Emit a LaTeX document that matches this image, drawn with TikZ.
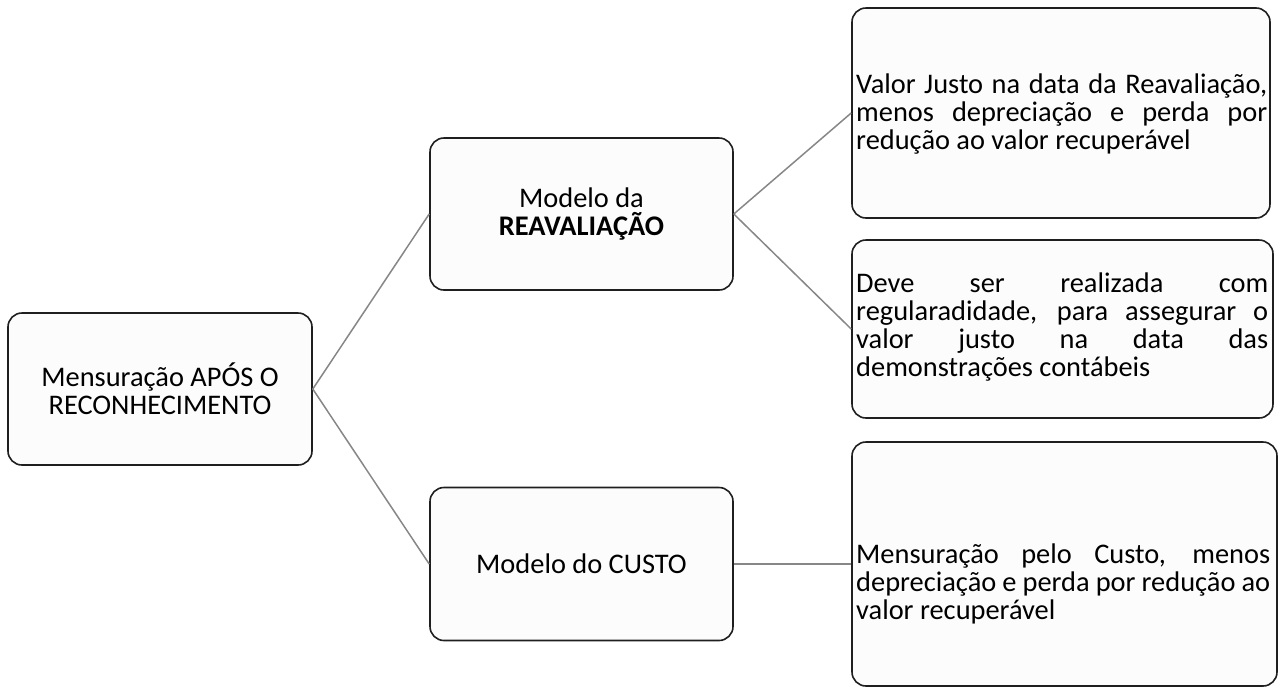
\documentclass[tikz,border=0pt]{standalone}
\usepackage{fontspec}
\setmainfont{Carlito}
\begin{document}
\begin{tikzpicture}[x=1pt,y=-1pt,
  box/.style={draw=black!88, line width=1.6pt, fill=black!1, rounded corners=14pt, inner sep=0pt},
  conn/.style={draw=black!47, line width=1.5pt},
  txt/.style={font=\fontsize{28.4}{28}\selectfont},
  jtxt/.style={txt, align=justify, inner sep=0pt}]
\useasboundingbox (0,0) rectangle (1280,689);

\node[box, txt, minimum width=304pt, minimum height=152pt, align=center] (root) at (160,389)
  {Mensuração APÓS O\\RECONHECIMENTO};
\node[box, txt, minimum width=303pt, minimum height=152pt, align=center] (reav) at (581.5,214)
  {Modelo da\\\textbf{REAVALIAÇÃO}};
\node[box, txt, minimum width=303pt, minimum height=153pt, align=center] (custo) at (581.5,564)
  {Modelo do CUSTO};

\node[box, minimum width=418pt, minimum height=210pt] (d1) at (1061,113) {};
\node[box, minimum width=421pt, minimum height=178pt] (d2) at (1062.5,329) {};
\node[box, minimum width=425pt, minimum height=244pt] (d3) at (1064.5,564) {};

\node[jtxt, text width=411pt, anchor=west] (t1) at (856,114)
  {\makebox[411pt][s]{Valor Justo na data da Reavaliação,}\\
   \makebox[411pt][s]{menos depreciação e perda por}\\
   redução ao valor recuperável};
\node[jtxt, text width=412pt, anchor=west] (t2) at (856,327)
  {\makebox[412pt][s]{Deve ser realizada com}\\
   \makebox[412pt][s]{regularadidade, para assegurar o}\\
   \makebox[412pt][s]{valor justo na data das}\\
   demonstrações contábeis};
\node[jtxt, text width=414pt, anchor=west] (t3) at (856,584)
  {\makebox[414pt][s]{Mensuração pelo Custo, menos}\\
   \makebox[414pt][s]{depreciação e perda por redução ao}\\
   valor recuperável};

\draw[conn] (root.east) -- (reav.west);
\draw[conn] (root.east) -- (custo.west);
\draw[conn] (reav.east) -- (d1.west);
\draw[conn] (reav.east) -- (d2.west);
\draw[conn] (custo.east) -- (d3.west);
\end{tikzpicture}
\end{document}
